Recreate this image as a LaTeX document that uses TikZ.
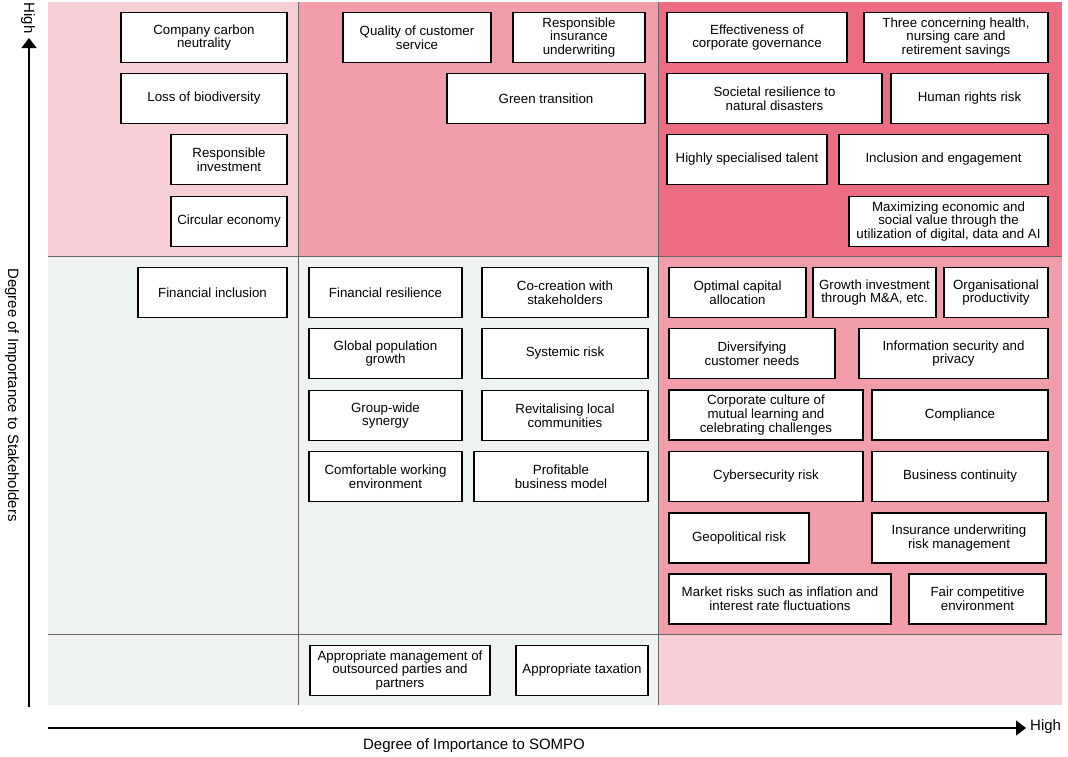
\documentclass[tikz,border=0pt]{standalone}
\usepackage{fontspec}
\setmainfont{Liberation Sans}
\usetikzlibrary{arrows.meta}
\definecolor{pinklight}{HTML}{F9CFD7}
\definecolor{pinkmid}{HTML}{F19DAA}
\definecolor{pinkdark}{HTML}{EC6C82}
\definecolor{greycell}{HTML}{EEF2F3}
\tikzstyle{issue} = [rectangle, minimum height=50pt, inner sep=1pt, align=center, draw=black, line width=1.3pt, fill=white, font=\fontsize{13.3}{13.6}\selectfont]
\tikzstyle{axislabel} = [font=\fontsize{15}{16}\selectfont, inner sep=0pt]
\tikzstyle{gridline} = [line width=0.6pt, draw=black!60]
\tikzstyle{axis} = [line width=1.4pt, -{Triangle[width=15pt,length=10pt]}]

\begin{document}
\begin{tikzpicture}[x=1pt, y=-1pt]
\useasboundingbox (0,0) rectangle (1068,756);
% cells
\fill[pinklight] (48,2) rectangle (298,256);
\fill[pinkmid] (298,2) rectangle (658,256);
\fill[pinkdark] (658,2) rectangle (1062,256);
\fill[greycell] (48,256) rectangle (658,705);
\fill[pinkmid] (658,256) rectangle (1062,634);
\fill[pinklight] (658,634) rectangle (1062,705);
\draw[gridline] (298,2) -- (298,705);
\draw[gridline] (658,2) -- (658,705);
\draw[gridline] (48,256) -- (1062,256);
\draw[gridline] (48,634) -- (1062,634);

% high / high
\node (carbon) [issue, minimum width=166pt] at (204,37.5) {Company carbon\\neutrality};
\node (biodiv) [issue, minimum width=166pt] at (204,98.5) {Loss of biodiversity};
\node (respinv) [issue, minimum width=116pt] at (229,159.5) {Responsible\\investment};
\node (circular) [issue, minimum width=116pt] at (229,221.5) {Circular economy};
\node (quality) [issue, minimum width=148pt] at (417,37.5) {Quality of customer\\service};
\node (respuw) [issue, minimum width=132pt] at (579,37.5) {Responsible\\insurance\\underwriting};
\node (green) [issue, minimum width=198pt] at (546,98.5) {Green transition};
\node (governance) [issue, minimum width=180pt] at (757,37.5) {Effectiveness of\\corporate governance};
\node (health) [issue, minimum width=184pt] at (956,37.5) {Three concerning health,\\nursing care and\\retirement savings};
\node (disasters) [issue, minimum width=215pt] at (774.5,98.5) {Societal resilience to\\natural disasters};
\node (rights) [issue, minimum width=157pt] at (969.5,98.5) {Human rights risk};
\node (talent) [issue, minimum width=160pt] at (747,159.5) {Highly specialised talent};
\node (inclusion) [issue, minimum width=209pt] at (943.5,159.5) {Inclusion and engagement};
\node (digital) [issue, minimum width=199pt] at (948.5,221.5) {Maximizing economic and\\social value through the\\utilization of digital, data and AI};

% middle row
\node (fininc) [issue, minimum width=149pt] at (212.5,292.5) {Financial inclusion};
\node (finres) [issue, minimum width=153pt] at (385.5,292.5) {Financial resilience};
\node (cocreate) [issue, minimum width=166pt] at (565,292.5) {Co-creation with\\stakeholders};
\node (population) [issue, minimum width=153pt] at (385.5,353.5) {Global population\\growth};
\node (systemic) [issue, minimum width=166pt] at (565,353.5) {Systemic risk};
\node (synergy) [issue, minimum width=153pt] at (385.5,415.5) {Group-wide\\synergy};
\node (revital) [issue, minimum width=166pt] at (565,415.5) {Revitalising local\\communities};
\node (comfort) [issue, minimum width=153pt] at (385.5,476.5) {Comfortable working\\environment};
\node (profit) [issue, minimum width=174pt] at (561,476.5) {Profitable\\business model};
\node (capital) [issue, minimum width=137pt] at (737.5,292.5) {Optimal capital\\allocation};
\node (growth) [issue, minimum width=123pt] at (874.5,292.5) {Growth investment\\through M\&A, etc.};
\node (productivity) [issue, minimum width=104pt] at (996,292.5) {Organisational\\productivity};
\node (needs) [issue, minimum width=166pt] at (752,353.5) {Diversifying\\customer needs};
\node (infosec) [issue, minimum width=189pt] at (953.5,353.5) {Information security and\\privacy};
\node (culture) [issue, minimum width=194pt] at (766,415) {Corporate culture of\\mutual learning and\\celebrating challenges};
\node (compliance) [issue, minimum width=176pt] at (960,415) {Compliance};
\node (cyber) [issue, minimum width=194pt] at (766,476.5) {Cybersecurity risk};
\node (continuity) [issue, minimum width=176pt] at (960,476.5) {Business continuity};
\node (geopol) [issue, minimum width=140pt] at (739,538) {Geopolitical risk};
\node (uwrisk) [issue, minimum width=174pt] at (959,538) {Insurance underwriting\\risk management};
\node (market) [issue, minimum width=222pt] at (780,599) {Market risks such as inflation and\\interest rate fluctuations};
\node (fair) [issue, minimum width=137pt] at (977.5,599) {Fair competitive\\environment};

% bottom row
\node (outsource) [issue, minimum width=180pt] at (400,670.5) {Appropriate management of\\outsourced parties and\\partners};
\node (taxation) [issue, minimum width=132pt] at (582,670.5) {Appropriate taxation};

% axes
\coordinate (yfoot) at (29,707);
\coordinate (ytip) at (29,38);
\coordinate (xfoot) at (48,728);
\coordinate (xtip) at (1026,728);
\draw [axis] (yfoot) -- (ytip);
\draw [axis] (xfoot) -- (xtip);
\node (yhigh) [axislabel, rotate=-90] at (28,18) {High};
\node (ytitle) [axislabel, rotate=-90] at (12,395) {Degree of Importance to Stakeholders};
\node (xhigh) [axislabel, anchor=west] at (1030,727) {High};
\node (xtitle) [axislabel] at (474,746) {Degree of Importance to SOMPO};
\end{tikzpicture}
\end{document}
